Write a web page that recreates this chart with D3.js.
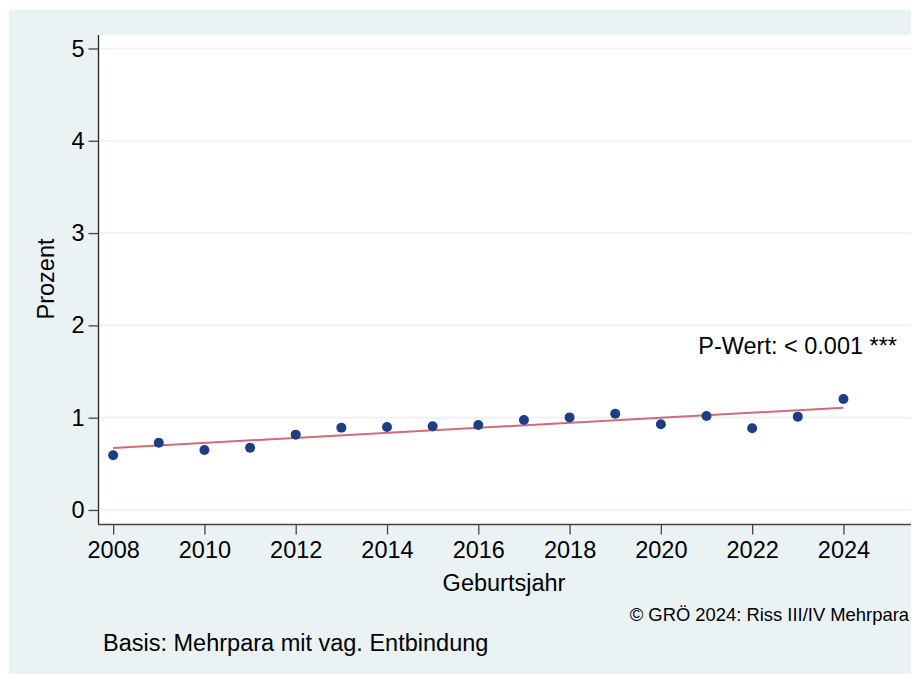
<!DOCTYPE html>
<html>
<head>
<meta charset="utf-8">
<script src="https://cdn.jsdelivr.net/npm/d3@7"></script>
<style>
  html, body { margin: 0; padding: 0; background: #ffffff; }
  svg { display: block; }
  text { font-family: "Liberation Sans", Arial, Helvetica, sans-serif; fill: #000; }
</style>
</head>
<body>
<svg id="chart" width="920" height="674"></svg>
<script>
// ---- data ----
const years = [2008, 2009, 2010, 2011, 2012, 2013, 2014, 2015, 2016, 2017, 2018, 2019, 2020, 2021, 2022, 2023, 2024];
const percent = [0.593, 0.729, 0.650, 0.675, 0.816, 0.892, 0.899, 0.907, 0.921, 0.975, 1.003, 1.043, 0.928, 1.018, 0.885, 1.011, 1.203];
const fitYears = [2008, 2024];
const fitValues = [0.672, 1.108];
const xTicks = [2008, 2010, 2012, 2014, 2016, 2018, 2020, 2022, 2024];
const yTicks = [0, 1, 2, 3, 4, 5];
const xTitle = "Geburtsjahr";
const yTitle = "Prozent";
const pText = "P-Wert: < 0.001 ***";
const copyrightText = "\u00A9 GR\u00D6 2024: Riss III/IV Mehrpara";
const noteText = "Basis: Mehrpara mit vag. Entbindung";

// ---- layout ----
const svg = d3.select("#chart");
const bg = "#eaf2f3";
const plot = { left: 99, right: 911, top: 35, bottom: 524 };
const fs = 23.5;

svg.append("rect").attr("x", 9).attr("y", 10).attr("width", 902).attr("height", 664).attr("fill", bg);
svg.append("rect").attr("x", plot.left).attr("y", plot.top)
  .attr("width", plot.right - plot.left).attr("height", plot.bottom - plot.top).attr("fill", "#ffffff");

const x = d3.scaleLinear().domain([2007.69, 2025.48]).range([plot.left, plot.right]);
const y = d3.scaleLinear().domain([-0.152, 5.146]).range([plot.bottom, plot.top]);

// gridlines
svg.append("g").selectAll("line").data(yTicks).join("line")
  .attr("x1", plot.left).attr("x2", plot.right)
  .attr("y1", d => y(d)).attr("y2", d => y(d))
  .attr("stroke", bg).attr("stroke-width", 1.6);

// axes
const yAxis = d3.axisLeft(y).tickValues(yTicks).tickSize(10).tickPadding(4).tickFormat(d3.format("d"));
const gy = svg.append("g").attr("transform", `translate(${plot.left - 0.5},0)`).call(yAxis);
gy.select(".domain").attr("stroke", "#222").attr("stroke-width", 1.3).attr("d", `M0,${plot.top}V${plot.bottom}`);
gy.selectAll(".tick line").attr("stroke", "#444").attr("stroke-width", 1.3);
gy.selectAll(".tick text").attr("font-size", fs).attr("font-family", "Liberation Sans, Arial, sans-serif");

const xAxis = d3.axisBottom(x).tickValues(xTicks).tickSize(10).tickPadding(7).tickFormat(d3.format("d"));
const gx = svg.append("g").attr("transform", `translate(0,${plot.bottom + 0.5})`).call(xAxis);
gx.select(".domain").attr("stroke", "#444").attr("stroke-width", 1.3).attr("d", `M${plot.left - 1},0H${plot.right}`);
gx.selectAll(".tick line").attr("stroke", "#444").attr("stroke-width", 1.3);
gx.selectAll(".tick text").attr("font-size", fs).attr("font-family", "Liberation Sans, Arial, sans-serif");

// fit line
const line = d3.line().x((d, i) => x(fitYears[i])).y(d => y(d));
svg.append("path").datum(fitValues).attr("d", line)
  .attr("fill", "none").attr("stroke", "#d06b78").attr("stroke-width", 2);

// points
svg.append("g").selectAll("circle").data(percent).join("circle")
  .attr("cx", (d, i) => x(years[i])).attr("cy", d => y(d)).attr("r", 5)
  .attr("fill", "#1f3d87");

// texts
svg.append("text").attr("x", 897).attr("y", 354).attr("text-anchor", "end")
  .attr("font-size", fs).text(pText);
svg.append("text").attr("x", 504).attr("y", 591).attr("text-anchor", "middle")
  .attr("font-size", fs).text(xTitle);
svg.append("text").attr("transform", "translate(54,279) rotate(-90)").attr("text-anchor", "middle")
  .attr("font-size", fs).text(yTitle);
svg.append("text").attr("x", 909).attr("y", 621).attr("text-anchor", "end")
  .attr("font-size", 18.4).text(copyrightText);
svg.append("text").attr("x", 103).attr("y", 651).attr("text-anchor", "start")
  .attr("font-size", fs).text(noteText);
</script>
</body>
</html>
